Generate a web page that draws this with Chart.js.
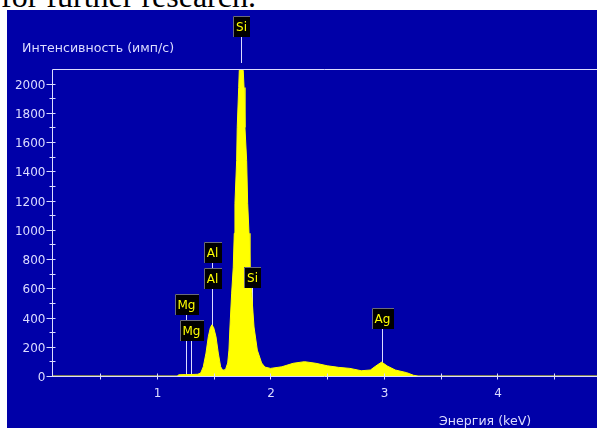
<!DOCTYPE html>
<html>
<head>
<meta charset="utf-8">
<script src="https://cdn.jsdelivr.net/npm/chart.js@4.4.1/dist/chart.umd.min.js"></script>
<style>
    html, body { margin: 0; padding: 0; background: #fff; width: 597px; height: 428px; overflow: hidden; }
    #caption { position: absolute; left: 1px; top: -20px; font: 32px/32px "Liberation Serif", serif; color: #000; white-space: nowrap; }
    #panel { position: absolute; left: 7px; top: 10px; width: 590px; height: 418px; background: #0000a8; }
</style>
</head>
<body>
<div id="caption">for further research.</div>
<div id="panel"><canvas id="spectrum" width="590" height="418"></canvas></div>
<script>
// spectrum (keV / counts per second)
const energies = [
    0.075, 1.18, 1.19, 1.25, 1.30, 1.36, 1.385, 1.408, 1.432, 1.452, 1.470, 1.484, 1.500, 1.520, 1.540,
    1.561, 1.577, 1.592, 1.607, 1.623, 1.634, 1.643, 1.658, 1.672, 1.681, 1.687, 1.702, 1.707, 1.720,
    1.725, 1.743, 1.760, 1.767, 1.775, 1.790, 1.799, 1.811, 1.819, 1.834, 1.855, 1.884, 1.922, 1.951,
    2.0, 2.1, 2.2, 2.3, 2.4, 2.5, 2.6, 2.7, 2.8, 2.88, 2.94, 2.98, 3.03, 3.1, 3.2, 3.26, 3.3, 4.877
];
const counts = [
    0, 0, 8, 10, 10, 12, 20, 63, 157, 268, 330, 350, 330, 268, 157,
    63, 42, 40, 52, 89, 177, 335, 567, 744, 976, 1181, 1474, 1700, 1973,
    2089, 2150, 2089, 1973, 1700, 1474, 1181, 976, 744, 567, 335, 177, 89, 61,
    52, 63, 87, 98, 87, 70, 59, 52, 36, 41, 75, 95, 68, 41, 23, 5, 0, 0
];

const yTickValues = [0, 200, 400, 600, 800, 1000, 1200, 1400, 1600, 1800, 2000];
const yMinorTicks = [100, 300, 500, 700, 900, 1100, 1300, 1500, 1700, 1900];
const xTickValues = [1, 2, 3, 4];
const xMinorTicks = [0.5, 1.5, 2.5, 3.5, 4.5];

// element markers
const lineNames = ['Si', 'Al', 'Al', 'Si', 'Mg', 'Mg', 'Ag'];
const lineEnergies = [1.740, 1.487, 1.487, 1.836, 1.254, 1.302, 2.984];

const yAxisTitle = 'Интенсивность (имп/с)';
const xAxisTitle = 'Энергия (keV)';

// layout only
const labelTops = [6, 232, 258, 257, 284, 310, 298];
const boxHeight = 21;
const inkColor = '#dcdcff';
const font = '12px "DejaVu Sans", sans-serif';
const titleFont = '12.6px "DejaVu Sans", sans-serif';

const spectrumDecor = {
    id: 'spectrumDecor',
    beforeDatasetsDraw(chart) {
        const { ctx, chartArea, scales: { x, y } } = chart;
        ctx.save();
        ctx.strokeStyle = inkColor;
        ctx.lineWidth = 1;
        lineEnergies.forEach((e, i) => {
            const px = Math.round(x.getPixelForValue(e)) + 0.5;
            const top = labelTops[i] + boxHeight;
            const bottom = top < chartArea.top ? chartArea.top - 6 : y.getPixelForValue(0);
            ctx.beginPath();
            ctx.moveTo(px, top);
            ctx.lineTo(px, bottom);
            ctx.stroke();
        });
        ctx.restore();
    },
    afterDatasetsDraw(chart) {
        const { ctx, chartArea, scales: { x, y } } = chart;
        const left = chartArea.left + 0.5;
        const base = Math.round(y.getPixelForValue(0)) + 0.5;
        ctx.save();
        ctx.strokeStyle = inkColor;
        ctx.fillStyle = inkColor;
        ctx.lineWidth = 1;
        ctx.font = font;

        // frame
        ctx.beginPath();
        ctx.moveTo(chart.width, chartArea.top + 0.5);
        ctx.lineTo(left, chartArea.top + 0.5);
        ctx.lineTo(left, base);
        ctx.lineTo(chart.width, base);
        ctx.stroke();

        // y ticks
        ctx.textAlign = 'right';
        ctx.textBaseline = 'middle';
        yTickValues.forEach(v => {
            const py = Math.round(y.getPixelForValue(v)) + 0.5;
            ctx.beginPath();
            ctx.moveTo(left - 6, py);
            ctx.lineTo(left + 3, py);
            ctx.stroke();
            ctx.fillText(String(v), left - 7, py + 1);
        });
        yMinorTicks.forEach(v => {
            const py = Math.round(y.getPixelForValue(v)) + 0.5;
            ctx.beginPath();
            ctx.moveTo(left - 3, py);
            ctx.lineTo(left + 3, py);
            ctx.stroke();
        });

        // x ticks
        ctx.textAlign = 'center';
        ctx.textBaseline = 'top';
        xMinorTicks.concat(xTickValues).forEach(v => {
            const px = Math.round(x.getPixelForValue(v)) + 0.5;
            ctx.beginPath();
            ctx.moveTo(px, base - 3);
            ctx.lineTo(px, base + 3);
            ctx.stroke();
        });
        xTickValues.forEach(v => {
            ctx.fillText(String(v), x.getPixelForValue(v) + 0.5, base + 11);
        });

        // axis titles
        ctx.font = titleFont;
        ctx.textAlign = 'left';
        ctx.textBaseline = 'alphabetic';
        ctx.fillText(yAxisTitle, 15, 42);
        ctx.fillText(xAxisTitle, 432, 415);

        // marker labels
        ctx.font = font;
        ctx.textAlign = 'center';
        ctx.textBaseline = 'middle';
        lineNames.forEach((name, i) => {
            const px = Math.round(x.getPixelForValue(lineEnergies[i])) + 0.5;
            const w = Math.round(ctx.measureText(name).width) + 6;
            const bx = Math.round(px - w / 2);
            const by = labelTops[i];
            ctx.fillStyle = '#000';
            ctx.fillRect(bx, by, w, boxHeight);
            ctx.strokeStyle = '#6a6a7a';
            ctx.beginPath();
            ctx.moveTo(bx + 0.5, by + boxHeight);
            ctx.lineTo(bx + 0.5, by + 0.5);
            ctx.lineTo(bx + w, by + 0.5);
            ctx.stroke();
            ctx.fillStyle = '#ffff00';
            ctx.fillText(name, px, by + boxHeight / 2 + 1);
        });
        ctx.restore();
    }
};

const ctx = document.getElementById('spectrum').getContext('2d');
new Chart(ctx, {
    type: 'line',
    data: {
        datasets: [{
            data: energies.map((e, i) => ({ x: e, y: counts[i] })),
            borderColor: '#ffff00',
            borderWidth: 1,
            backgroundColor: '#ffff00',
            fill: 'origin',
            pointRadius: 0,
            tension: 0
        }]
    },
    options: {
        responsive: false,
        animation: false,
        devicePixelRatio: 1,
        layout: { padding: { left: 45, top: 59, right: 0, bottom: 52 } },
        plugins: { legend: { display: false }, tooltip: { enabled: false } },
        scales: {
            x: { type: 'linear', min: 0.075, max: 4.877, display: false },
            y: { min: 0, max: 2100, display: false }
        }
    },
    plugins: [spectrumDecor]
});
</script>
</body>
</html>
